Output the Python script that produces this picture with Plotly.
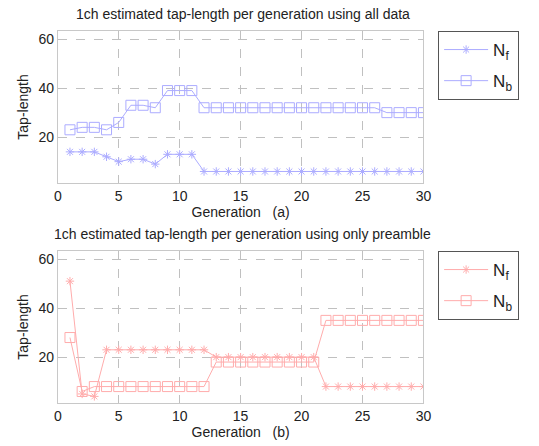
import plotly.graph_objects as go

generations = list(range(1, 31))

# (a) using all data
nf_all = [14, 14, 14, 12, 10, 11, 11, 9, 13, 13, 13] + [6] * 19
nb_all = [23, 24, 24, 23, 26, 33, 33, 32, 39, 39, 39] + [32] * 15 + [30] * 4

# (b) using only preamble
nf_pre = [51, 5, 4] + [23] * 9 + [20] * 9 + [8] * 9
nb_pre = [28, 6, 8] + [8] * 9 + [18] * 9 + [35] * 9

titles = ["1ch estimated tap-length per generation using all data",
          "1ch estimated tap-length per generation using only preamble"]
xlabels = ["Generation\u00a0\u00a0\u00a0(a)", "Generation\u00a0\u00a0\u00a0(b)"]
ylabel = "Tap-length"
xticks = [0, 5, 10, 15, 20, 25, 30]
yticks = [20, 40, 60]

W, H = 539, 446
FONT = "Liberation Sans, Arial, sans-serif"
blue = "#acacff"
red = "#ffacac"

fig = go.Figure()

def add_pair(nf, nb, color, xa, ya, legend):
    fig.add_trace(go.Scatter(
        x=generations, y=nf, mode="lines+markers", name="N<sub>f</sub>",
        line=dict(color=color, width=1),
        marker=dict(symbol="asterisk-open", size=7, color=color,
                    line=dict(color=color, width=1)),
        xaxis=xa, yaxis=ya, legend=legend, legendgroup=legend + "f"))
    fig.add_trace(go.Scatter(
        x=generations, y=nb, mode="lines+markers", name="N<sub>b</sub>",
        line=dict(color=color, width=1),
        marker=dict(symbol="square-open", size=10, color=color,
                    line=dict(color=color, width=1)),
        xaxis=xa, yaxis=ya, legend=legend, legendgroup=legend + "b"))

add_pair(nf_all, nb_all, blue, "x", "y", "legend")
add_pair(nf_pre, nb_pre, red, "x2", "y2", "legend2")

xd = [55 / W, 429 / W]
yd1 = [1 - 183 / H, 1 - 31 / H]
yd2 = [1 - 403 / H, 1 - 251 / H]

axis_common = dict(
    showline=True, linecolor="#c8c8c8", linewidth=1, mirror=True,
    showgrid=True, gridcolor="#c0c0c0", griddash="dash", gridwidth=1,
    zeroline=False, ticks="", tickfont=dict(family=FONT, size=14, color="#222222"),
)

for i, (yd, sfx) in enumerate([(yd1, ""), (yd2, "2")]):
    fig.update_layout(**{
        "xaxis" + sfx: dict(axis_common, domain=xd, range=[0, 30], tickvals=xticks,
                            anchor="y" + sfx,
                            title=dict(text=xlabels[i], standoff=4,
                                       font=dict(family=FONT, size=14, color="#222222"))),
        "yaxis" + sfx: dict(axis_common, domain=yd, range=[1.3, 63.3], tickvals=yticks,
                            anchor="x" + sfx,
                            title=dict(text=ylabel, standoff=6,
                                       font=dict(family=FONT, size=14, color="#222222"))),
    })

annotations = [
    dict(text=titles[0], x=244 / W, y=1 - 14 / H, xref="paper", yref="paper",
         showarrow=False, xanchor="center", yanchor="middle",
         font=dict(family=FONT, size=14, color="#222222")),
    dict(text=titles[1], x=244 / W, y=1 - 234 / H, xref="paper", yref="paper",
         showarrow=False, xanchor="center", yanchor="middle",
         font=dict(family=FONT, size=14, color="#222222")),
]

legend_common = dict(
    bgcolor="white", bordercolor="#555555", borderwidth=1,
    font=dict(family=FONT, size=17, color="#222222"),
    xanchor="left", yanchor="top", tracegroupgap=6, itemwidth=44,
)

fig.update_layout(
    width=W, height=H,
    margin=dict(l=0, r=0, t=0, b=0),
    paper_bgcolor="white", plot_bgcolor="white",
    showlegend=True,
    legend=dict(legend_common, x=444 / W, y=1 - 31 / H),
    legend2=dict(legend_common, x=444 / W, y=1 - 251 / H),
    annotations=annotations,
)

fig.write_html("out.html")
